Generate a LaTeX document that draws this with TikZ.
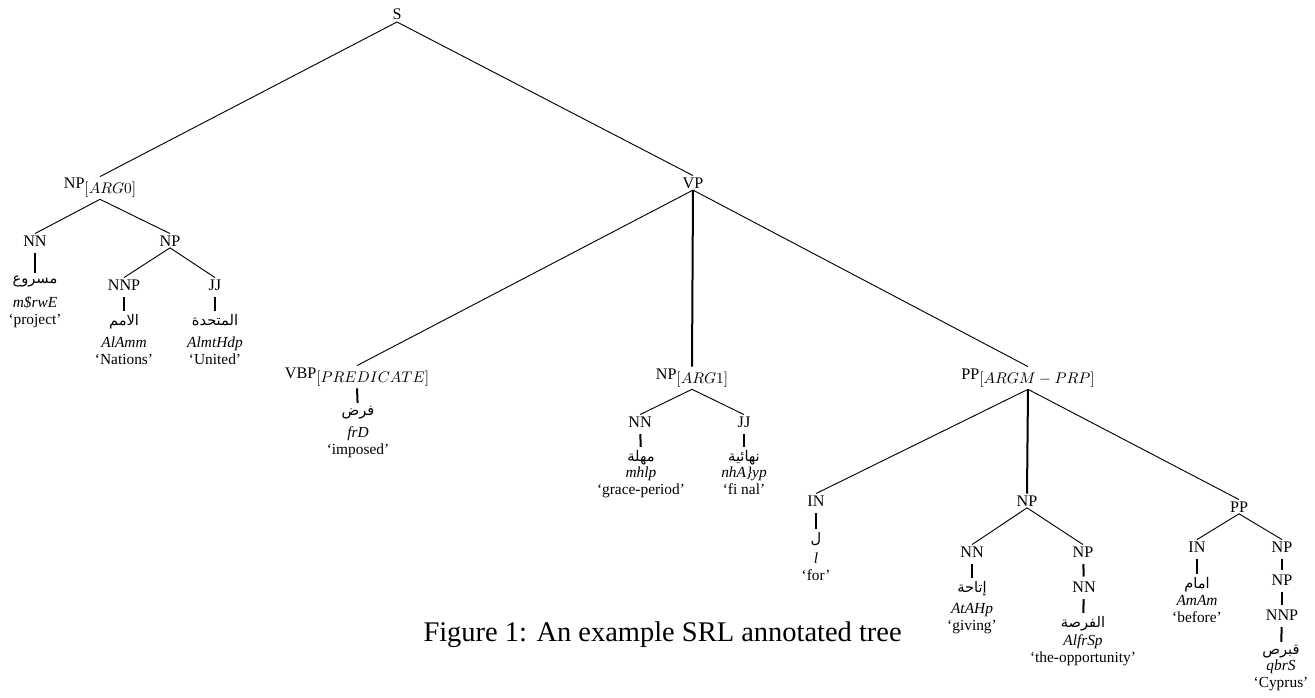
\documentclass[tikz,border=0pt]{standalone}
\usepackage{fontspec}
\setmainfont{Liberation Serif}
\newfontfamily\arabicfont[Script=Arabic]{DejaVu Sans}
\TeXXeTstate=1
\usetikzlibrary{positioning}
\newcommand{\arword}[1]{{\arabicfont\beginR #1\endR}}
\newcommand{\argsub}[1]{\raisebox{-3pt}{\fontsize{10}{12}\selectfont$[#1]$}}
\tikzset{
  cat/.style={inner sep=1pt, anchor=base, font=\fontsize{10.5}{12}\selectfont},
  word/.style={inner sep=0pt, anchor=north, font=\fontsize{9.5}{11}\selectfont},
  gloss/.style={inner sep=0pt, anchor=north, align=center,
    font=\fontsize{10}{11}\selectfont},
  branch/.style={line width=0.6pt},
  bar/.style={line width=1.3pt},
  stem/.style={line width=1.3pt, shorten <=3.5pt, shorten >=2pt},
  captext/.style={inner sep=0pt, anchor=base east, font=\fontsize{18.5}{22}\selectfont},
}

\begin{document}
\begin{tikzpicture}[x=0.65pt, y=-0.65pt]
  \useasboundingbox (0,0) rectangle (1315,698);

  % categories
  \node (s)    [cat] at (397,20)   {S};
  \node (np0)  [cat] at (100,189)  {NP\argsub{ARG0}};
  \node (vp)   [cat] at (693,188)  {VP};
  \node (nn1)  [cat] at (35,246)   {NN};
  \node (np1)  [cat] at (170,246)  {NP};
  \node (nnp1) [cat] at (124,290)  {NNP};
  \node (jj1)  [cat] at (215,290)  {JJ};
  \node (vbp)  [cat] at (357,378)  {VBP\argsub{PREDICATE}};
  \node (np2)  [cat] at (692,379)  {NP\argsub{ARG1}};
  \node (pp0)  [cat] at (1028,379) {PP\argsub{ARGM-PRP}};
  \node (nn2)  [cat] at (640,427)  {NN};
  \node (jj2)  [cat] at (744,427)  {JJ};
  \node (in1)  [cat] at (816,506)  {IN};
  \node (np3)  [cat] at (1027,506) {NP};
  \node (pp1)  [cat] at (1239,512) {PP};
  \node (nn3)  [cat] at (972,557)  {NN};
  \node (np4)  [cat] at (1083,557) {NP};
  \node (nn4)  [cat] at (1084,592) {NN};
  \node (in2)  [cat] at (1197,552) {IN};
  \node (np5)  [cat] at (1282,552) {NP};
  \node (np6)  [cat] at (1282,585) {NP};
  \node (nnp2) [cat] at (1282,620) {NNP};

  % arabic words
  \node (w1)  [word] at (35,276)   {\arword{مسروع}};
  \node (w2)  [word] at (124,314)  {\arword{الامم}};
  \node (w3)  [word] at (215,314)  {\arword{المتحدة}};
  \node (w4)  [word] at (358,406)  {\arword{فرض}};
  \node (w5)  [word] at (641,450)  {\arword{مهلة}};
  \node (w6)  [word] at (744,450)  {\arword{نهائية}};
  \node (w7)  [word] at (816,532)  {\arword{ل}};
  \node (w8)  [word] at (972,581)  {\arword{إتاحة}};
  \node (w9)  [word] at (1083,616) {\arword{الفرصة}};
  \node (w10) [word] at (1197,577) {\arword{امام}};
  \node (w11) [word] at (1281,645) {\arword{قبرص}};

  % transliterations and glosses
  \node (g1)  [gloss] at (35,296)   {\textit{m\$rwE}\\`project'};
  \node (g2)  [gloss] at (124,337)  {\textit{AlAmm}\\`Nations'};
  \node (g3)  [gloss] at (215,337)  {\textit{AlmtHdp}\\`United'};
  \node (g4)  [gloss] at (358,426)  {\textit{frD}\\`imposed'};
  \node (g5)  [gloss] at (641,467)  {\textit{mhlp}\\`grace-period'};
  \node (g6)  [gloss] at (744,467)  {\textit{nhA\}yp}\\`fi nal'};
  \node (g7)  [gloss] at (816,553)  {\textit{l}\\`for'};
  \node (g8)  [gloss] at (972,603)  {\textit{AtAHp}\\`giving'};
  \node (g9)  [gloss] at (1083,634) {\textit{AlfrSp}\\`the-opportunity'};
  \node (g10) [gloss] at (1197,595) {\textit{AmAm}\\`before'};
  \node (g11) [gloss] at (1281,660) {\textit{qbrS}\\`Cyprus'};

  \node (caption) [captext] at (902,641) {Figure 1: An example SRL annotated tree};

  % branches
  \draw[branch] (s.south) -- (np0.north);
  \draw[branch] (s.south) -- (vp.north);
  \draw[branch] (np0.south) -- (nn1.north);
  \draw[branch] (np0.south) -- (np1.north);
  \draw[branch] (np1.south) -- (nnp1.north);
  \draw[branch] (np1.south) -- (jj1.north);
  \draw[branch] (vp.south) -- (vbp.north);
  \draw[bar]    (vp.south) -- (np2.north);
  \draw[branch] (vp.south) -- (pp0.north);
  \draw[branch] (np2.south) -- (nn2.north);
  \draw[branch] (np2.south) -- (jj2.north);
  \draw[branch] (pp0.south) -- (in1.north);
  \draw[bar]    (pp0.south) -- (np3.north);
  \draw[branch] (pp0.south) -- (pp1.north);
  \draw[branch] (np3.south) -- (nn3.north);
  \draw[branch] (np3.south) -- (np4.north);
  \draw[branch] (pp1.south) -- (in2.north);
  \draw[branch] (pp1.south) -- (np5.north);

  % unary stems
  \draw[stem] (nn1) -- (w1);
  \draw[stem] (nnp1) -- (w2);
  \draw[stem] (jj1) -- (w3);
  \draw[stem, shorten <=0pt] (vbp.south) -- (w4);
  \draw[stem] (nn2) -- (w5);
  \draw[stem] (jj2) -- (w6);
  \draw[stem] (in1) -- (w7);
  \draw[stem] (nn3) -- (w8);
  \draw[stem] (np4) -- (nn4);
  \draw[stem] (nn4) -- (w9);
  \draw[stem] (in2) -- (w10);
  \draw[stem] (np5) -- (np6);
  \draw[stem] (np6) -- (nnp2);
  \draw[stem] (nnp2) -- (w11);
\end{tikzpicture}
\end{document}
